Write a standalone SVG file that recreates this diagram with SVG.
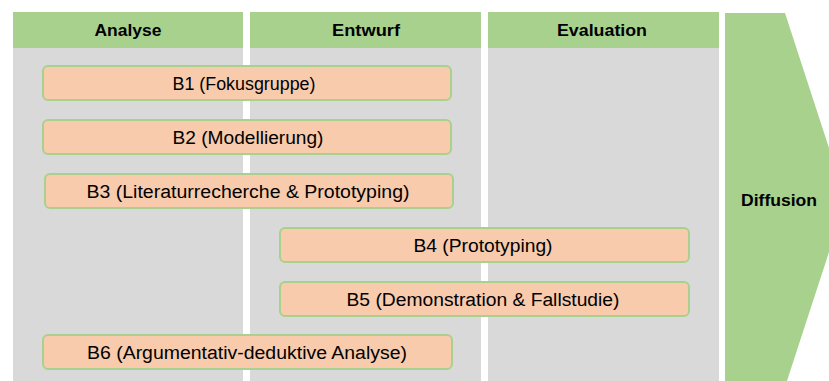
<svg xmlns="http://www.w3.org/2000/svg" width="829" height="381" viewBox="0 0 829 381">
  <style>
    .body { fill: #d9d9d9; }
    .head { fill: #a9d18e; }
    .htext { font-family: "Liberation Sans", Arial, sans-serif; font-weight: bold; font-size: 17px; fill: #000; text-anchor: middle; dominant-baseline: central; }
    .box { fill: #f8cbad; stroke: #a9d18e; stroke-width: 2; }
    .btext { font-family: "Liberation Sans", Arial, sans-serif; font-size: 18px; fill: #000; text-anchor: middle; dominant-baseline: central; }
  </style>
  <rect width="829" height="381" fill="#ffffff"/>

  <!-- phase columns -->
  <g id="phase-analyse">
    <rect class="body" x="13" y="48" width="230" height="333"/>
    <rect class="head" x="13" y="12" width="230" height="36"/>
    <text class="htext" x="128" y="30" textLength="67" lengthAdjust="spacingAndGlyphs">Analyse</text>
  </g>
  <g id="phase-entwurf">
    <rect class="body" x="250" y="48" width="231" height="333"/>
    <rect class="head" x="250" y="12" width="231" height="36"/>
    <text class="htext" x="366" y="30" textLength="68" lengthAdjust="spacingAndGlyphs">Entwurf</text>
  </g>
  <g id="phase-evaluation">
    <rect class="body" x="488" y="48" width="231" height="333"/>
    <rect class="head" x="488" y="12" width="231" height="36"/>
    <text class="htext" x="602" y="30" textLength="90" lengthAdjust="spacingAndGlyphs">Evaluation</text>
  </g>
  <g id="phase-diffusion">
    <polygon class="head" points="725,13 785,13 846,200 785,387 725,387"/>
    <text class="htext" x="779" y="200" textLength="76" lengthAdjust="spacingAndGlyphs">Diffusion</text>
  </g>

  <!-- study bars -->
  <g id="b1">
    <rect class="box" x="43" y="66" width="408" height="34" rx="5"/>
    <text class="btext" x="244" y="84" textLength="143" lengthAdjust="spacingAndGlyphs">B1 (Fokusgruppe)</text>
  </g>
  <g id="b2">
    <rect class="box" x="43" y="120" width="408" height="34" rx="5"/>
    <text class="btext" x="248" y="138" textLength="151" lengthAdjust="spacingAndGlyphs">B2 (Modellierung)</text>
  </g>
  <g id="b3">
    <rect class="box" x="45" y="174" width="408" height="34" rx="5"/>
    <text class="btext" x="248" y="192" textLength="323" lengthAdjust="spacingAndGlyphs">B3 (Literaturrecherche &amp; Prototyping)</text>
  </g>
  <g id="b4">
    <rect class="box" x="280" y="228" width="409" height="34" rx="5"/>
    <text class="btext" x="483" y="246" textLength="139" lengthAdjust="spacingAndGlyphs">B4 (Prototyping)</text>
  </g>
  <g id="b5">
    <rect class="box" x="280" y="282" width="409" height="34" rx="5"/>
    <text class="btext" x="483" y="300" textLength="273" lengthAdjust="spacingAndGlyphs">B5 (Demonstration &amp; Fallstudie)</text>
  </g>
  <g id="b6">
    <rect class="box" x="43" y="335" width="409" height="34" rx="5"/>
    <text class="btext" x="247" y="353" textLength="320" lengthAdjust="spacingAndGlyphs">B6 (Argumentativ-deduktive Analyse)</text>
  </g>

  <g id="connectors"/>
</svg>
